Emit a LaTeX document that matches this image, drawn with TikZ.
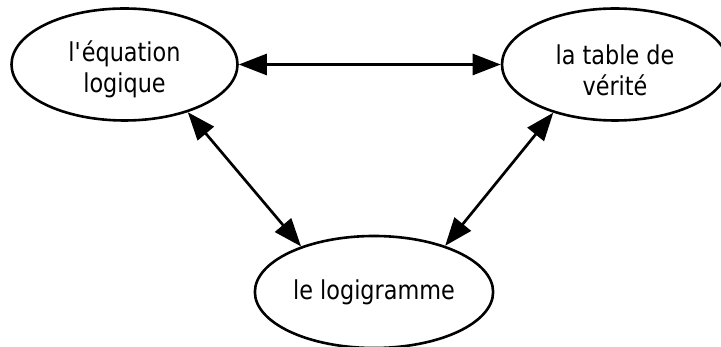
\documentclass[tikz,border=0pt]{standalone}
\usepackage{fontspec}
\setmainfont{DejaVu Sans}[FakeStretch=0.86]
\usepackage{tikz}
\usetikzlibrary{shapes.geometric,positioning}
\usetikzlibrary{arrows.meta}

\begin{document}
\begin{tikzpicture}[node distance=3cm,on grid,auto,>={Triangle[length=28pt,width=21pt]}]
    \tikzset{bulle/.style={draw,ellipse,line width=2.6pt,minimum width=226pt,minimum height=112pt,align=center,font=\fontsize{26}{31}\selectfont}}
    \useasboundingbox (-124.5pt,-282.5pt) rectangle (596.5pt,64.5pt);
    \node[bulle,text height=62pt] (eq) {l\textquotesingle équation\\logique};
    \node[bulle,text height=62pt] (tv) [right=490.5pt of eq] {la table de\\vérité};
    \node[bulle] (lg) [below right=227.5pt and 249.5pt of eq] {le logigramme};
    \path[<->,line width=2.7pt]
    (eq) edge (tv)
    (eq.-37.5) edge (lg.148.4)
    (tv.218.6) edge (lg.33.5)
    ;
  \end{tikzpicture}
\end{document}
